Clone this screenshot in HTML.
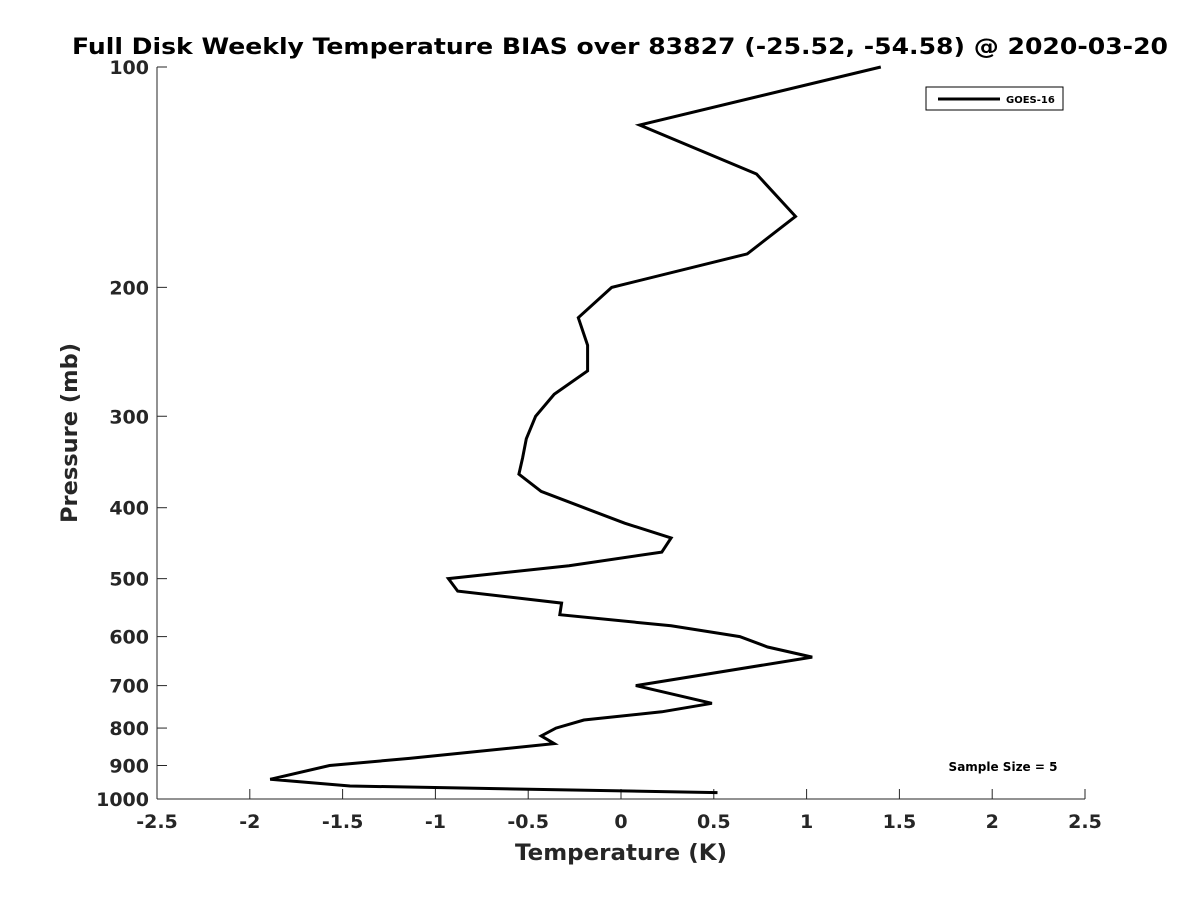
<!DOCTYPE html>
<html><head><meta charset="utf-8">
<style>
body{margin:0;background:#fff;}
svg text{font-family:"DejaVu Sans","Liberation Sans",sans-serif;font-weight:bold;fill:#262626;}
</style></head>
<body>
<svg id="chart" width="1200" height="900" viewBox="0 0 1200 900" xmlns="http://www.w3.org/2000/svg">
<rect width="1200" height="900" fill="#fff"/>
<text x="72" y="54" font-size="22" textLength="1096" lengthAdjust="spacingAndGlyphs" style="fill:#000">Full Disk Weekly Temperature BIAS over 83827 (-25.52, -54.58) @ 2020-03-20</text>
<g id="axes"></g>
<polyline id="series" fill="none" stroke="#000" stroke-width="3" stroke-linejoin="miter"/>
<g>
<rect x="926" y="87" width="137" height="23" fill="#fff" stroke="#000" stroke-width="1"/>
<line x1="938" y1="99" x2="1000" y2="99" stroke="#000" stroke-width="3"/>
<text x="1006" y="103" font-size="10" style="fill:#000">GOES-16</text>
</g>
<text x="1003" y="771" text-anchor="middle" font-size="12" style="fill:#000">Sample Size = 5</text>
<text x="515" y="860" font-size="22" textLength="212" lengthAdjust="spacingAndGlyphs">Temperature (K)</text>
<text transform="translate(77,523) rotate(-90)" font-size="22" textLength="180" lengthAdjust="spacingAndGlyphs">Pressure (mb)</text>
</svg>
<script>
const temps=[1.40,0.10,0.73,0.94,0.68,-0.05,-0.23,-0.18,-0.18,-0.36,-0.46,-0.51,-0.53,-0.55,-0.43,-0.20,0.02,0.27,0.22,-0.28,-0.93,-0.88,-0.32,-0.33,0.27,0.64,0.79,1.03,0.08,0.49,0.22,-0.20,-0.35,-0.43,-0.36,-1.14,-1.57,-1.89,-1.46,0.52];
const pressures=[100,120,140,160,180,200,220,240,260,280,300,322,342,360,380,400,420,440,460,480,500,520,540,560,580,600,620,640,700,740,760,780,800,820,840,880,900,940,960,980];
const xTicks=[-2.5,-2,-1.5,-1,-0.5,0,0.5,1,1.5,2,2.5];
const yTicks=[100,200,300,400,500,600,700,800,900,1000];
const L=157,R=1085,T=67,B=799;
const X=v=>L+(v+2.5)/5*(R-L);
const Y=p=>T+Math.log10(p/100)*(B-T);
const ns="http://www.w3.org/2000/svg";
const ax=document.getElementById('axes');
function mk(tag,attrs){const e=document.createElementNS(ns,tag);for(const k in attrs)e.setAttribute(k,attrs[k]);ax.appendChild(e);return e;}
let a=mk('line',{x1:L,y1:T,x2:L,y2:B,stroke:'#262626','stroke-width':1});


a=mk('line',{x1:L,y1:B,x2:R,y2:B,stroke:'#262626','stroke-width':1});


xTicks.forEach(v=>{
 const x=X(v);
 const t=mk('line',{x1:x,y1:B,x2:x,y2:B-10,stroke:'#262626','stroke-width':1});
 
 
 const l=mk('text',{x:x,y:B+29,'text-anchor':'middle','font-size':19});
 l.textContent=String(v);
 
 
});
yTicks.forEach(p=>{
 const y=Y(p);
 const t=mk('line',{x1:L,y1:y,x2:L+10,y2:y,stroke:'#262626','stroke-width':1});
 
 
 const l=mk('text',{x:L-8,y:y+7,'text-anchor':'end','font-size':19});
 l.textContent=String(p);
 
 
});
document.getElementById('series').setAttribute('points',temps.map((t,i)=>X(t).toFixed(1)+','+Y(pressures[i]).toFixed(1)).join(' '));
</script>
</body></html>
